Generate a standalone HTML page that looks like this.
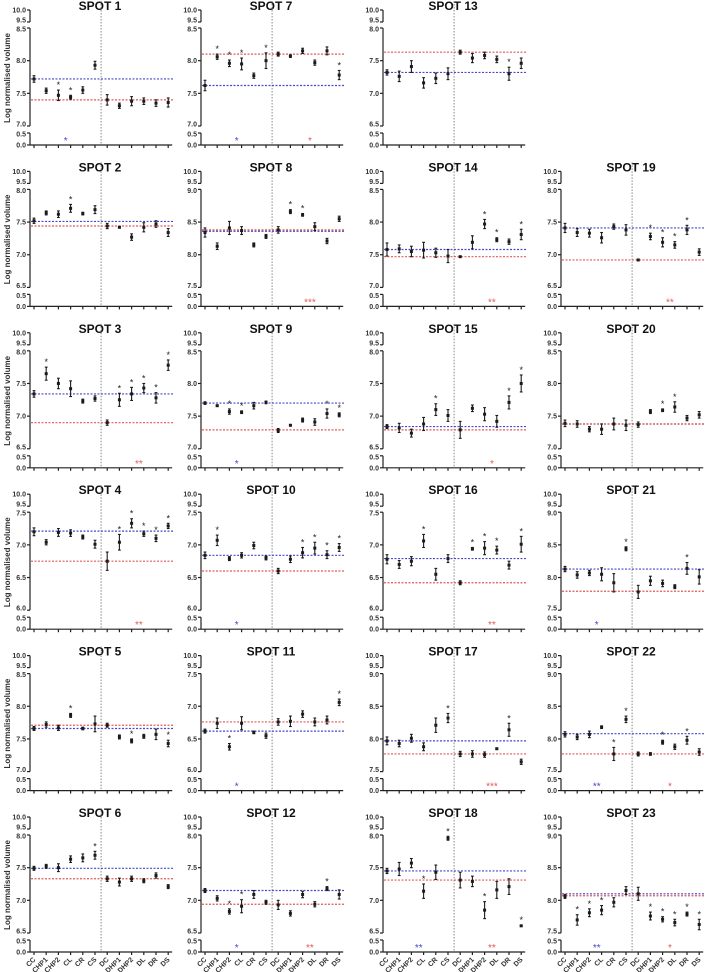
<!DOCTYPE html>
<html><head><meta charset="utf-8"><style>
html,body{margin:0;padding:0;background:#fff;}
svg{display:block;font-family:"Liberation Sans",Arial,sans-serif;}
</style></head><body>
<svg id="chart" width="709" height="972" viewBox="0 0 709 972" xmlns="http://www.w3.org/2000/svg"></svg>
<script>
const categories = ["CC","CHP1","CHP2","CL","CR","CS","DC","DHP1","DHP2","DL","DR","DS"];
const spotIds = [1,2,3,4,5,6,7,8,9,10,11,12,13,14,15,16,17,18,19,20,21,22,23];
const axisMins = [7.0,6.5,6.5,6.0,7.0,6.5, 7.0,7.5,7.0,6.0,6.0,6.5, 6.5,7.0,6.5,6.0,7.5,6.5, 6.5,7.0,7.5,7.5,7.5];
const blueRefs = [7.72,7.51,7.34,7.21,7.66,7.49, 7.62,8.36,7.70,6.84,6.62,7.15, 7.32,7.58,6.84,6.79,7.97,7.45, 7.41,7.38,8.13,8.08,8.10];
const redRefs = [7.40,7.44,6.90,6.75,7.71,7.33, 8.10,8.38,7.29,6.60,6.76,6.94, 7.63,7.47,6.79,6.42,7.77,7.31, 6.92,7.38,7.79,7.77,8.07];
const means = [
[7.72,7.54,7.47,7.44,7.55,7.93,7.40,7.31,7.38,7.38,7.35,7.36],
[7.52,7.64,7.62,7.71,7.63,7.69,7.44,7.42,7.27,7.42,7.47,7.34],
[7.34,7.65,7.50,7.42,7.23,7.27,6.90,7.25,7.34,7.43,7.28,7.78],
[7.20,7.04,7.19,7.18,7.12,7.01,6.75,7.04,7.33,7.17,7.10,7.29],
[7.66,7.72,7.67,7.86,7.66,7.73,7.71,7.53,7.47,7.54,7.57,7.43],
[7.49,7.52,7.50,7.63,7.65,7.69,7.33,7.28,7.33,7.30,7.38,7.21],
[7.62,8.06,7.96,7.95,7.77,8.00,8.10,8.07,8.15,7.97,8.15,7.78],
[8.34,8.13,8.41,8.37,8.15,8.28,8.38,8.66,8.61,8.43,8.21,8.55],
[7.70,7.66,7.57,7.56,7.66,7.71,7.28,7.36,7.44,7.41,7.54,7.52],
[6.84,7.07,6.79,6.84,6.99,6.80,6.60,6.78,6.88,6.95,6.85,6.96],
[6.62,6.74,6.38,6.74,6.60,6.55,6.76,6.77,6.88,6.76,6.79,7.06],
[7.15,7.03,6.83,6.91,7.09,6.97,6.93,6.80,7.09,6.94,7.18,7.09],
[7.32,7.26,7.41,7.16,7.23,7.30,7.63,7.54,7.58,7.52,7.30,7.46],
[7.58,7.59,7.55,7.57,7.53,7.48,7.47,7.69,7.97,7.73,7.70,7.81],
[6.84,6.82,6.74,6.88,7.10,7.01,6.79,7.12,7.03,6.92,7.21,7.50],
[6.78,6.70,6.75,7.06,6.55,6.79,6.42,6.94,6.95,6.92,6.69,7.01],
[7.97,7.93,8.01,7.88,8.21,8.32,7.77,7.77,7.76,7.85,8.14,7.65],
[7.45,7.48,7.57,7.14,7.43,7.95,7.31,7.29,6.85,7.16,7.21,6.61],
[7.41,7.34,7.33,7.26,7.43,7.38,6.92,7.28,7.19,7.15,7.38,7.04],
[7.39,7.38,7.30,7.30,7.38,7.36,7.37,7.57,7.59,7.64,7.47,7.52],
[8.13,8.04,8.07,8.05,7.92,8.44,7.78,7.95,7.91,7.86,8.14,8.01],
[8.07,8.03,8.07,8.18,7.77,8.30,7.77,7.77,7.95,7.88,7.98,7.80],
[8.06,7.70,7.81,7.85,7.97,8.15,8.10,7.76,7.71,7.66,7.79,7.63]
];
const errors = [
[.05,.04,.08,.03,.05,.06,.08,.04,.07,.05,.05,.07],
[.04,.03,.05,.06,.02,.06,.04,.01,.05,.07,.05,.06],
[.05,.10,.08,.12,.03,.04,.04,.10,.10,.07,.08,.08],
[.06,.04,.06,.05,.03,.06,.14,.12,.07,.04,.05,.04],
[.03,.04,.04,.03,.02,.12,.03,.03,.03,.03,.08,.05],
[.03,.03,.06,.05,.06,.06,.04,.06,.04,.03,.04,.03],
[.08,.04,.05,.09,.04,.12,.03,.02,.04,.04,.06,.07],
[.07,.05,.10,.06,.03,.03,.05,.03,.02,.06,.04,.04],
[.02,.01,.04,.02,.05,.02,.03,.01,.03,.05,.07,.03],
[.05,.08,.03,.04,.05,.03,.04,.05,.08,.09,.06,.06],
[.03,.08,.05,.10,.02,.04,.05,.08,.05,.06,.06,.05],
[.03,.04,.04,.10,.06,.03,.07,.04,.05,.04,.03,.07],
[.04,.08,.09,.08,.08,.09,.03,.07,.05,.05,.10,.08],
[.10,.06,.08,.12,.07,.10,.01,.10,.07,.03,.04,.08],
[.03,.07,.06,.10,.09,.09,.13,.05,.10,.09,.10,.13],
[.07,.06,.07,.10,.09,.06,.03,.02,.10,.06,.06,.12],
[.06,.05,.06,.06,.11,.07,.04,.05,.04,.01,.10,.04],
[.04,.10,.07,.11,.11,.03,.12,.08,.13,.13,.12,.01],
[.07,.06,.06,.08,.04,.08,.01,.05,.07,.05,.07,.05],
[.05,.05,.04,.08,.09,.08,.04,.03,.02,.08,.04,.05],
[.04,.05,.04,.10,.14,.03,.10,.07,.05,.03,.09,.11],
[.04,.04,.05,.02,.10,.05,.03,.02,.03,.04,.06,.05],
[.03,.08,.06,.07,.07,.06,.10,.06,.04,.05,.03,.08]
];
const starIdx = [[2,3],[3],[1,7,8,9,10,11],[7,8,9,10,11],[3,8,11],[5],[1,2,3,5,11],[7,8],[2,3,10,11],[1,8,9,10,11],[2,11],[2,3,10],[10],[8,9,11],[4,10,11],[3,7,8,9,11],[5,10],[3,5,8,11],[7,8,9,10],[8,9],[5,10],[4,5,8,10],[1,2,3,7,8,9,10,11]];
const blueSig = ["*","","","","","","*","","*","*","*","*","","","","","","**","","","*","**","**"];
const redSig = ["","","**","**","","","*","***","","","","**","","**","*","**","***","**","**","","","*","*"];

const svg = document.getElementById('chart');
const NS = 'http://www.w3.org/2000/svg';
function mk(tag, attrs, parent){const e=document.createElementNS(NS,tag);for(const k in attrs)e.setAttribute(k,attrs[k]);(parent||svg).appendChild(e);return e;}
const colAxisX=[30,201,383,561];
const ROW=161.4, MAIN_TOP=28, MAIN_BOT=126, SEG_TOP=10, SEG_MID=22, LOW_TOP=133, LOW_BOT=145;
const BLUE='#4848c8', RED='#e05a58';

spotIds.forEach((id,p)=>{
  let col, row;
  if(id<=6){col=0;row=id-1;}else if(id<=12){col=1;row=id-7;}else if(id<=18){col=2;row=id-13;}else{col=3;row=id-18;}
  const ax=colAxisX[col], y0=row*ROW;
  const g=mk('g',{});
  
  
  const mn=axisMins[p], mx=mn+1.5;
  const yS=v=>y0+MAIN_TOP+(mx-v)/1.5*(MAIN_BOT-MAIN_TOP);
  const xS=i=>ax+4+i*12.2;
  const t=mk('text',{x:ax+70,y:y0+10,'text-anchor':'middle','font-size':'12','font-weight':'bold',fill:'#111'},g);
  t.textContent='SPOT '+id;
  
  
  const ya=mk('g',{stroke:'#222','stroke-width':'1.2'},g);
  
  
  mk('line',{x1:ax,y1:y0+SEG_TOP,x2:ax,y2:y0+SEG_MID},ya);
  mk('line',{x1:ax,y1:y0+MAIN_TOP,x2:ax,y2:y0+MAIN_BOT},ya);
  mk('line',{x1:ax,y1:y0+LOW_TOP,x2:ax,y2:y0+LOW_BOT},ya);
  const tks=[[10.0,y0+SEG_TOP],[9.5,y0+SEG_MID]];
  for(let v=mx;v>=mn-1e-6;v-=0.5)tks.push([v,yS(v)]);
  tks.push([0.5,y0+LOW_TOP],[0.0,y0+LOW_BOT]);
  tks.forEach(([v,y],k)=>{
    mk('line',{x1:ax-3,y1:y,x2:ax,y2:y},ya);
    let ly=y+2.5; if(k===1)ly=y+0.5; if(k===2)ly=y+3.5;
    if(k===tks.length-3)ly=y+0.5; if(k===tks.length-2)ly=y+3.5;
    const l=mk('text',{x:ax-4,y:ly,'text-anchor':'end','font-size':'7','font-weight':'bold',fill:'#333',stroke:'none'},g);
    l.textContent=v.toFixed(1);
    
    
  });
  const xa=mk('g',{stroke:'#222','stroke-width':'1.2'},g);
  
  
  mk('line',{x1:ax,y1:y0+LOW_BOT,x2:xS(11)+4,y2:y0+LOW_BOT},xa);
  categories.forEach((c,i)=>{
    mk('line',{x1:xS(i),y1:y0+LOW_BOT,x2:xS(i),y2:y0+LOW_BOT+3},xa);
    if(row===5){
      const l=mk('text',{x:xS(i)+2,y:y0+LOW_BOT+8,'text-anchor':'end','font-size':'7','font-weight':'bold',fill:'#333',stroke:'none',transform:`rotate(-45 ${xS(i)+2} ${y0+LOW_BOT+8})`},g);
      l.textContent=c;
      
      
    }
  });
  if(col===0){
    const yt=mk('text',{x:0,y:0,'text-anchor':'middle','font-size':'8','font-weight':'bold',fill:'#333',transform:`translate(10 ${y0+78}) rotate(-90)`},g);
    yt.textContent='Log normalised volume';
    
    
  }
  const xd=(xS(5)+xS(6))/2;
  const dv=mk('line',{x1:xd,y1:y0+1,x2:xd,y2:y0+LOW_BOT,stroke:'#888','stroke-width':'1','stroke-dasharray':'1.5,1.5'},g);
  
  
  const bl=mk('line',{x1:ax+1,y1:yS(blueRefs[p]),x2:xS(11)+6,y2:yS(blueRefs[p]),stroke:BLUE,'stroke-width':'1.2','stroke-dasharray':'2,1.5'},g);
  
  
  const rl=mk('line',{x1:ax+1,y1:yS(redRefs[p]),x2:xS(11)+6,y2:yS(redRefs[p]),stroke:RED,'stroke-width':'1.2','stroke-dasharray':'2,1.5'},g);
  
  
  means[p].forEach((m,i)=>{
    const e=errors[p][i], x=xS(i);
    const pg=mk('g',{stroke:'#1a1a1a','stroke-width':'1.1'},g);
    
    
    mk('line',{x1:x,y1:yS(m+e),x2:x,y2:yS(m-e)},pg);
    mk('line',{x1:x-1.4,y1:yS(m+e),x2:x+1.4,y2:yS(m+e)},pg);
    mk('line',{x1:x-1.4,y1:yS(m-e),x2:x+1.4,y2:yS(m-e)},pg);
    mk('rect',{x:x-1.5,y:yS(m)-1.5,width:3,height:3,fill:'#1a1a1a',stroke:'none'},pg);
    if(starIdx[p].includes(i)){
      const s=mk('text',{x:x,y:yS(m+e)-2,'text-anchor':'middle','font-size':'9',fill:'#222',stroke:'none'},g);
      s.textContent='*';
      
      
    }
  });
  if(blueSig[p]){
    const s=mk('text',{x:xS(2.6),y:y0+144,'text-anchor':'middle','font-size':'10',fill:BLUE},g);
    s.textContent=blueSig[p];
    
    
  }
  if(redSig[p]){
    const s=mk('text',{x:xS(8.6),y:y0+144,'text-anchor':'middle','font-size':'10',fill:RED},g);
    s.textContent=redSig[p];
    
    
  }
});
</script>
</body></html>
